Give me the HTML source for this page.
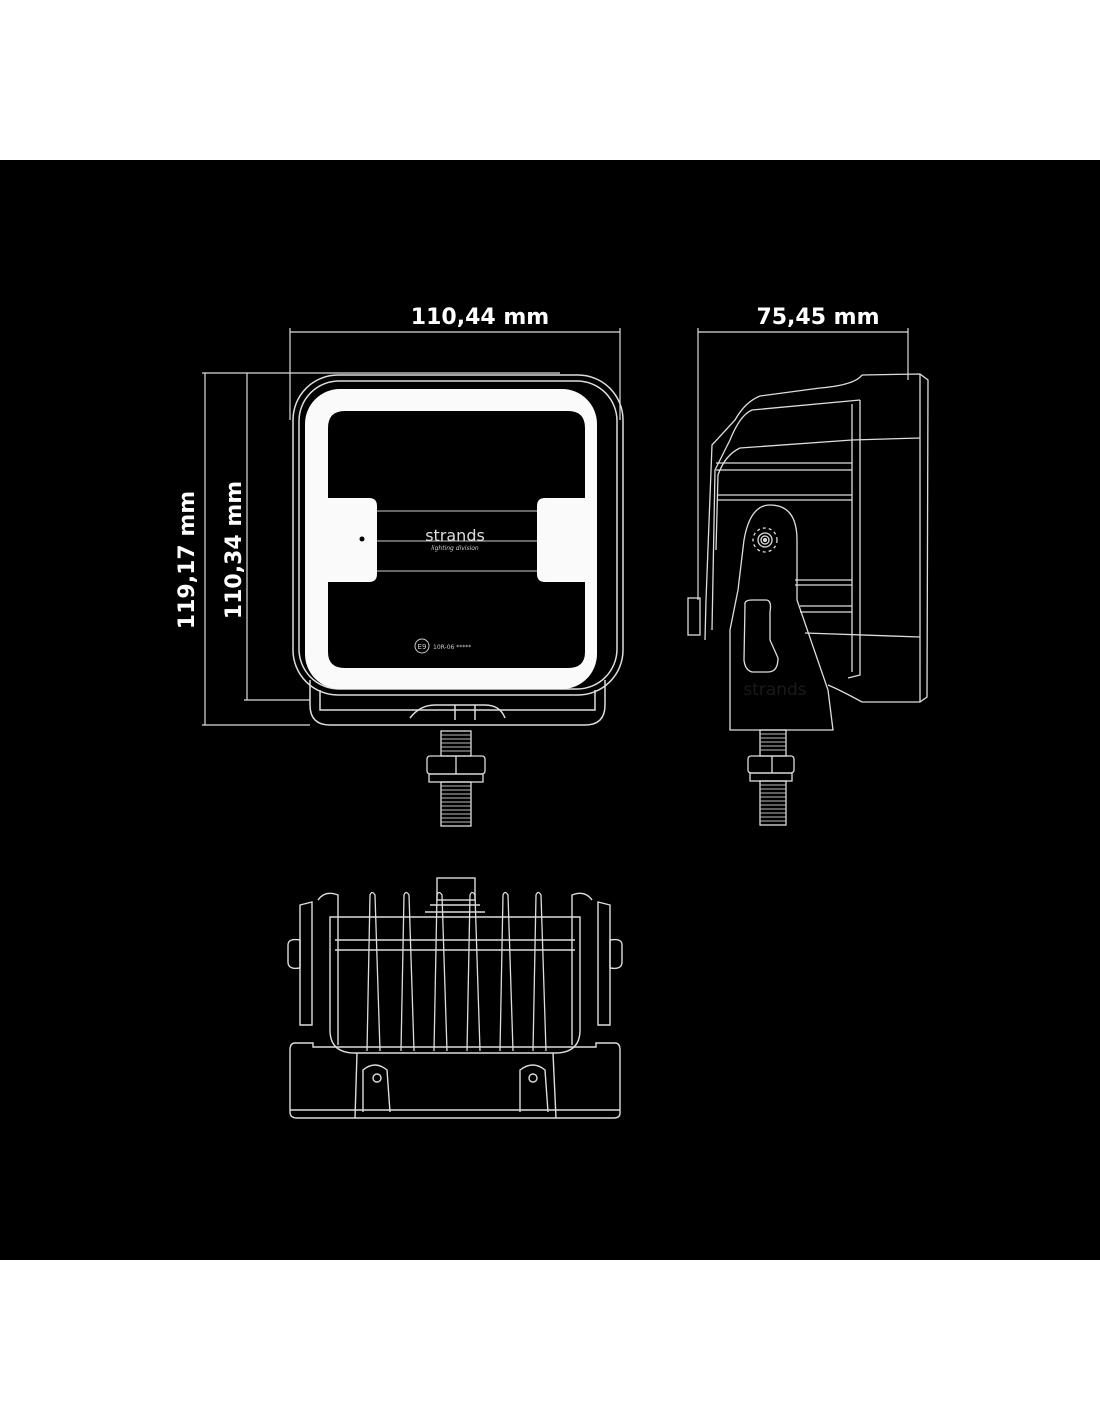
<!DOCTYPE html>
<html><head><meta charset="utf-8"><style>
html,body{margin:0;padding:0;background:#fff;}
svg{display:block;}
text{font-family:"DejaVu Sans","Liberation Sans",sans-serif;}
</style></head><body>
<svg width="1100" height="1422" viewBox="0 0 1100 1422" xmlns="http://www.w3.org/2000/svg">
<rect x="0" y="0" width="1100" height="1422" fill="#fff"/>
<rect x="0" y="160" width="1100" height="1100" fill="#000"/>
<g stroke="#ddd" stroke-width="1.2" fill="none">
<line x1="290" y1="332" x2="620" y2="332"/>
<line x1="290" y1="328" x2="290" y2="420"/>
<line x1="620" y1="328" x2="620" y2="420"/>
<line x1="698" y1="332" x2="908" y2="332"/>
<line x1="698" y1="328" x2="698" y2="600"/>
<line x1="908" y1="328" x2="908" y2="380"/>
<line x1="202" y1="373" x2="560" y2="373"/>
<line x1="205" y1="373" x2="205" y2="725"/>
<line x1="247" y1="373" x2="247" y2="700"/>
<line x1="202" y1="725" x2="310" y2="725"/>
<line x1="244" y1="700" x2="310" y2="700"/>
</g>
<g style="fill:#fff">
<text x="480" y="324" font-size="22" font-weight="bold" text-anchor="middle">110,44 mm</text>
<text x="818" y="324" font-size="22" font-weight="bold" text-anchor="middle">75,45 mm</text>
<text transform="translate(194,560) rotate(-90)" font-size="22" font-weight="bold" text-anchor="middle">119,17 mm</text>
<text transform="translate(241,550) rotate(-90)" font-size="22" font-weight="bold" text-anchor="middle">110,34 mm</text>
</g>

<g stroke="#ddd" stroke-width="1.5" fill="none">
<rect x="293" y="375" width="330" height="320" rx="45"/>
<rect x="299" y="381" width="318" height="308" rx="40"/>
<path d="M310 680 L310 705 Q310 725 330 725 L585 725 Q605 725 605 705 L605 680"/>
<path d="M320 690 L320 710 L595 710 L595 690"/>
<path d="M410 718 Q420 705 435 705 L485 705 Q500 705 505 718"/>
<line x1="455" y1="705" x2="455" y2="720"/><line x1="475" y1="705" x2="475" y2="720"/>
</g>
<rect x="305" y="389" width="292" height="300" rx="35" fill="#fafafa"/>
<path d="M328 428 Q328 411 345 411 L568 411 Q585 411 585 428 L585 498 L545 498 Q537 498 537 506 L537 574 Q537 582 545 582 L585 582 L585 652 Q585 668 568 668 L345 668 Q328 668 328 652 L328 582 L369 582 Q377 582 377 574 L377 506 Q377 498 369 498 L328 498 Z" fill="#000"/>
<g stroke="#ccc" stroke-width="1"><line x1="377" y1="511" x2="537" y2="511"/><line x1="377" y1="541" x2="537" y2="541"/><line x1="377" y1="571" x2="537" y2="571"/></g>
<circle cx="362" cy="539" r="2.5" fill="#000"/>
<text x="455" y="541" font-size="16" text-anchor="middle" style="fill:#ddd">strands</text>
<text x="455" y="550" font-size="6" font-style="italic" text-anchor="middle" style="fill:#ccc">lighting division</text>
<circle cx="422" cy="646" r="7" stroke="#ccc" fill="none"/>
<text x="422" y="649" font-size="7" text-anchor="middle" style="fill:#ccc">E9</text>
<text x="433" y="649" font-size="6" style="fill:#ccc">10R-06 *****</text>
<g stroke="#ddd" fill="none" stroke-width="1.3">
<rect x="441" y="731" width="30" height="25"/>
<rect x="427" y="756" width="58" height="18" rx="3"/>
<line x1="456" y1="756" x2="456" y2="774"/>
<rect x="429" y="774" width="54" height="8"/>
<rect x="441" y="782" width="30" height="44"/>
</g>
<g stroke="#bbb" stroke-width="1">
<path d="M441 735h30M441 739h30M441 743h30M441 747h30M441 751h30M441 786h30M441 790h30M441 794h30M441 798h30M441 802h30M441 806h30M441 810h30M441 814h30M441 818h30M441 822h30"/>
</g>

<text x="775" y="695" font-size="17" text-anchor="middle" style="fill:#1a1a1a">strands</text>
<g stroke="#ddd" stroke-width="1.3" fill="none">
<path d="M862 375 L920 374 L928 380 L927 697 L920 702 L862 702"/>
<path d="M920 374 L920 702"/>
<path d="M862 375 Q855 385 820 388 L760 396 Q745 402 735 420 L712 445 L706 600 L705 640"/>
<path d="M860 400 L752 410 Q740 415 730 440 L715 470 L712 630"/>
<path d="M860 400 L860 675 L848 678"/>
<path d="M852 404 L852 672"/>
<path d="M852 440 L740 448 Q725 455 718 475 L716 550"/>
<path d="M716 463 L852 463"/><path d="M716 470 L852 470"/>
<path d="M718 495 L852 495"/><path d="M718 500 L852 500"/>
<path d="M795 580 L852 580"/><path d="M795 585 L852 585"/>
<path d="M800 606 L852 606"/><path d="M800 612 L852 612"/>
<path d="M805 633 L920 637"/><path d="M852 440 L920 438"/>
<path d="M828 685 Q840 690 862 702"/>
<rect x="688" y="598" width="12" height="37"/>
<path d="M730 730 L730 630 L738 590 L744 540 Q750 505 770 505 Q797 505 797 540 L797 600 L828 690 L833 730 Z"/>
<path d="M745 605 Q744 600 752 600 L766 600 Q772 600 770 612 L770 640 L778 658 Q778 672 768 672 L752 672 Q745 670 744 660 Z"/>
<circle cx="765" cy="540" r="12" stroke-dasharray="3 3"/>
<circle cx="765" cy="540" r="7"/>
<circle cx="765" cy="540" r="4"/>
<rect x="748" y="756" width="46" height="17" rx="3"/>
<line x1="772" y1="756" x2="772" y2="773"/>
<rect x="750" y="773" width="42" height="8"/>
<rect x="760" y="730" width="26" height="26"/><rect x="760" y="781" width="26" height="44"/>
</g>
<circle cx="765" cy="540" r="2" fill="#ddd"/>
<g stroke="#bbb" stroke-width="1"><path d="M760 734h26M760 738h26M760 742h26M760 746h26M760 750h26M760 785h26M760 789h26M760 793h26M760 797h26M760 801h26M760 805h26M760 809h26M760 813h26M760 817h26M760 821h26"/></g>

<g stroke="#ddd" stroke-width="1.4" fill="none">
<path d="M295 1043 L313 1043 L313 1047 L596 1047 L596 1043 L615 1043 Q620 1043 620 1050 L620 1113 Q620 1118 614 1118 L297 1118 Q290 1118 290 1112 L290 1050 Q290 1043 295 1043 Z"/>
<line x1="290" y1="1110" x2="620" y2="1110"/>
<path d="M357 1053 L355 1118"/><path d="M553 1053 L556 1118"/>
<path d="M363 1112 L363 1070 Q375 1060 387 1070 L390 1112"/>
<path d="M520 1112 L520 1070 Q533 1060 545 1070 L548 1112"/>
<circle cx="377" cy="1078" r="4"/><circle cx="533" cy="1078" r="4"/>
<path d="M330 917 L580 917 L580 1030 Q580 1053 555 1053 L355 1053 Q330 1053 330 1030 Z"/>
<path d="M335 940 L575 940"/><path d="M335 950 L575 950"/>
<path d="M300 905 L312 902 L312 1025 L300 1025 Z"/>
<path d="M598 902 L610 905 L610 1025 L598 1025 Z"/>
<path d="M288 945 Q288 938 300 940 L300 968 Q288 970 288 962 Z"/>
<path d="M622 945 Q622 938 610 940 L610 968 Q622 970 622 962 Z"/>
<path d="M318 900 Q325 890 338 895 L338 1045"/>
<path d="M592 900 Q585 890 572 895 L572 1045"/>
<rect x="437" y="878" width="38" height="22"/>
<path d="M430 905 L480 905 M425 912 L485 912"/>
</g>
<g stroke="#ddd" stroke-width="1.3" fill="none">
<path d="M367 1051 L370 895 Q372 890 375 895 L380 1051"/>
<path d="M401 1051 L404 895 Q406 890 409 895 L414 1051"/>
<path d="M434 1051 L437 895 Q439 890 442 895 L447 1051"/>
<path d="M467 1051 L470 895 Q472 890 475 895 L480 1051"/>
<path d="M500 1051 L503 895 Q505 890 508 895 L513 1051"/>
<path d="M533 1051 L536 895 Q538 890 541 895 L546 1051"/>
</g>
</svg>
</body></html>
